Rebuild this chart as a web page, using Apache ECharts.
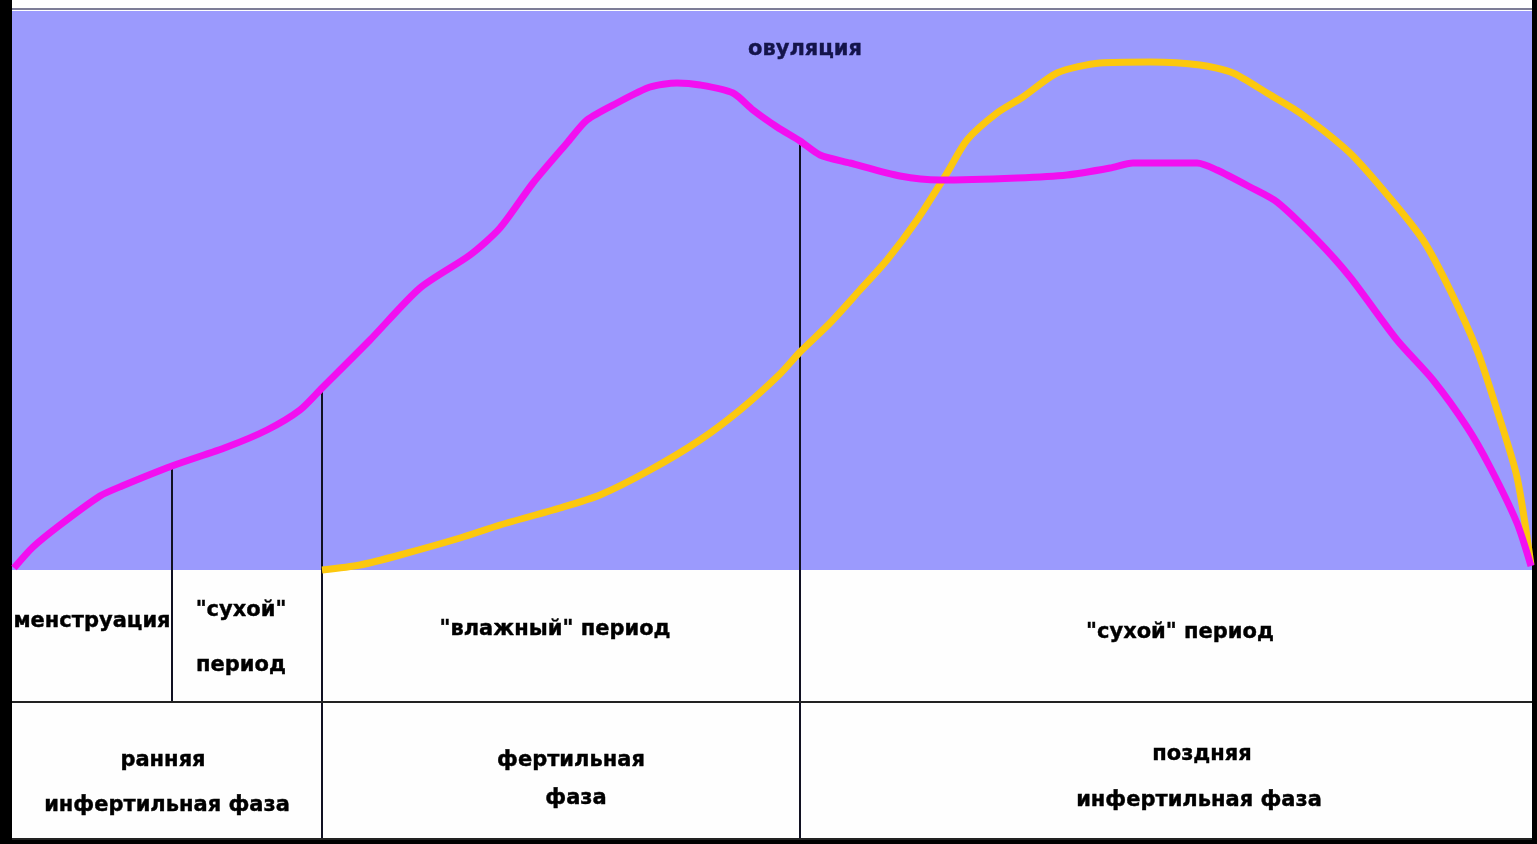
<!DOCTYPE html>
<html>
<head>
<meta charset="utf-8">
<script src="https://cdn.jsdelivr.net/npm/echarts@6/dist/echarts.min.js"></script>
<style>
html,body{margin:0;padding:0;background:#000;}
#chart{width:1537px;height:844px;}
</style>
</head>
<body>
<div id="chart"></div>
<script>
// Magenta curve (x position, height)
const magentaX = [2,21,48,88,110,160,215,255,288,310,358,408,458,488,521,555,575,605,638,665,688,721,741,765,788,808,838,888,928,1005,1055,1098,1121,1185,1205,1238,1265,1305,1338,1385,1421,1455,1478,1505,1519];
const magentaY = [2,23,45,74,84,104,123,140,160,182,230,282,315,342,387,427,450,467,483,487,485,477,460,443,429,415,407,394,390,392,395,402,407,407,400,383,368,330,293,230,190,143,103,47,4];
// Yellow curve
const yellowX = [310,348,388,448,488,548,588,638,688,728,768,788,818,848,875,905,935,955,985,1011,1045,1088,1138,1188,1221,1255,1288,1338,1378,1411,1438,1465,1485,1505,1519];
const yellowY = [0,5,15,32,45,62,75,100,130,160,196,218,247,280,310,350,397,430,457,473,497,507,508,505,497,477,457,417,372,330,280,220,160,93,5];
// Phase boundaries (x) and where they start at the top
const boundaryX = [160, 310, 788];
const boundaryTop = [104, 182, 429];
const boundaryBottom = [-132, -270, -270];
const rowSplitY = -132;
const labelTexts = ['овуляция','менструация','"сухой"','период','"влажный" период','"сухой" период','ранняя','инфертильная фаза','фертильная','фаза','поздняя','инфертильная фаза'];

const chart = echarts.init(document.getElementById('chart'));
const pair = (xs, ys) => xs.map((x, i) => [x, ys[i]]);

const labelPos = [[793,520],[80,-52],[229,-41],[229,-96],[543,-60],[1168,-63],[151,-191],[155,-236],[559,-191],[564,-229],[1190,-185],[1187,-231]];

const series = [];
series.push({
  type: 'line', data: [], silent: true,
  markArea: {
    silent: true,
    data: [
      [{coord:[0,-270], itemStyle:{color:'#fefefe'}}, {coord:[1520,570]}],
      [{coord:[0,0], itemStyle:{color:'#9b9afd'}}, {coord:[1520,559]}]
    ]
  },
  markLine: {
    silent: true, symbol: 'none', label:{show:false},
    lineStyle:{color:'#7c7c96', width:2, type:'solid'},
    data: [[{coord:[0,561]},{coord:[1520,561]}]]
  }
});
boundaryX.forEach((bx, i) => {
  series.push({
    type: 'line', silent: true, symbol: 'none', z: 3,
    lineStyle: {color: '#111122', width: 2},
    data: [[bx, boundaryBottom[i]], [bx, boundaryTop[i]]]
  });
});
series.push({
  type: 'line', silent: true, symbol: 'none', z: 3,
  lineStyle: {color: '#222', width: 2},
  data: [[0, rowSplitY], [1520, rowSplitY]]
});
series.push({
  type: 'line', silent: true, symbol: 'none', z: 3,
  lineStyle: {color: '#222', width: 2},
  data: [[0, -269], [1520, -269]]
});
series.push({
  name: 'yellow', type: 'line', symbol: 'none', smooth: 0.25, z: 4,
  lineStyle: {color: '#fcc80e', width: 7},
  data: pair(yellowX, yellowY)
});
series.push({
  name: 'magenta', type: 'line', symbol: 'none', smooth: 0.25, z: 5,
  lineStyle: {color: '#f20ff0', width: 7},
  data: pair(magentaX, magentaY)
});
series.push({
  type: 'scatter', symbolSize: 0, z: 6, silent: true,
  itemStyle: {opacity: 1},
  label: {
    show: true, position: 'inside', opacity: 1,
    formatter: p => p.name,
    fontFamily: 'DejaVu Sans', fontSize: 21, fontWeight: 'bold',
    color: '#000', textBorderColor: '#000', textBorderWidth: 0.4
  },
  data: labelTexts.map((t, i) => ({
    name: t, value: labelPos[i],
    label: i === 0 ? {color: '#14144a', textBorderColor: '#14144a'} : {}
  }))
});

chart.setOption({
  backgroundColor: '#000',
  animation: false,
  grid: {left: 12, top: 0, width: 1520, height: 840},
  xAxis: {type: 'value', min: 0, max: 1520, show: false},
  yAxis: {type: 'value', min: -270, max: 570, show: false},
  series: series
});
</script>
</body>
</html>
